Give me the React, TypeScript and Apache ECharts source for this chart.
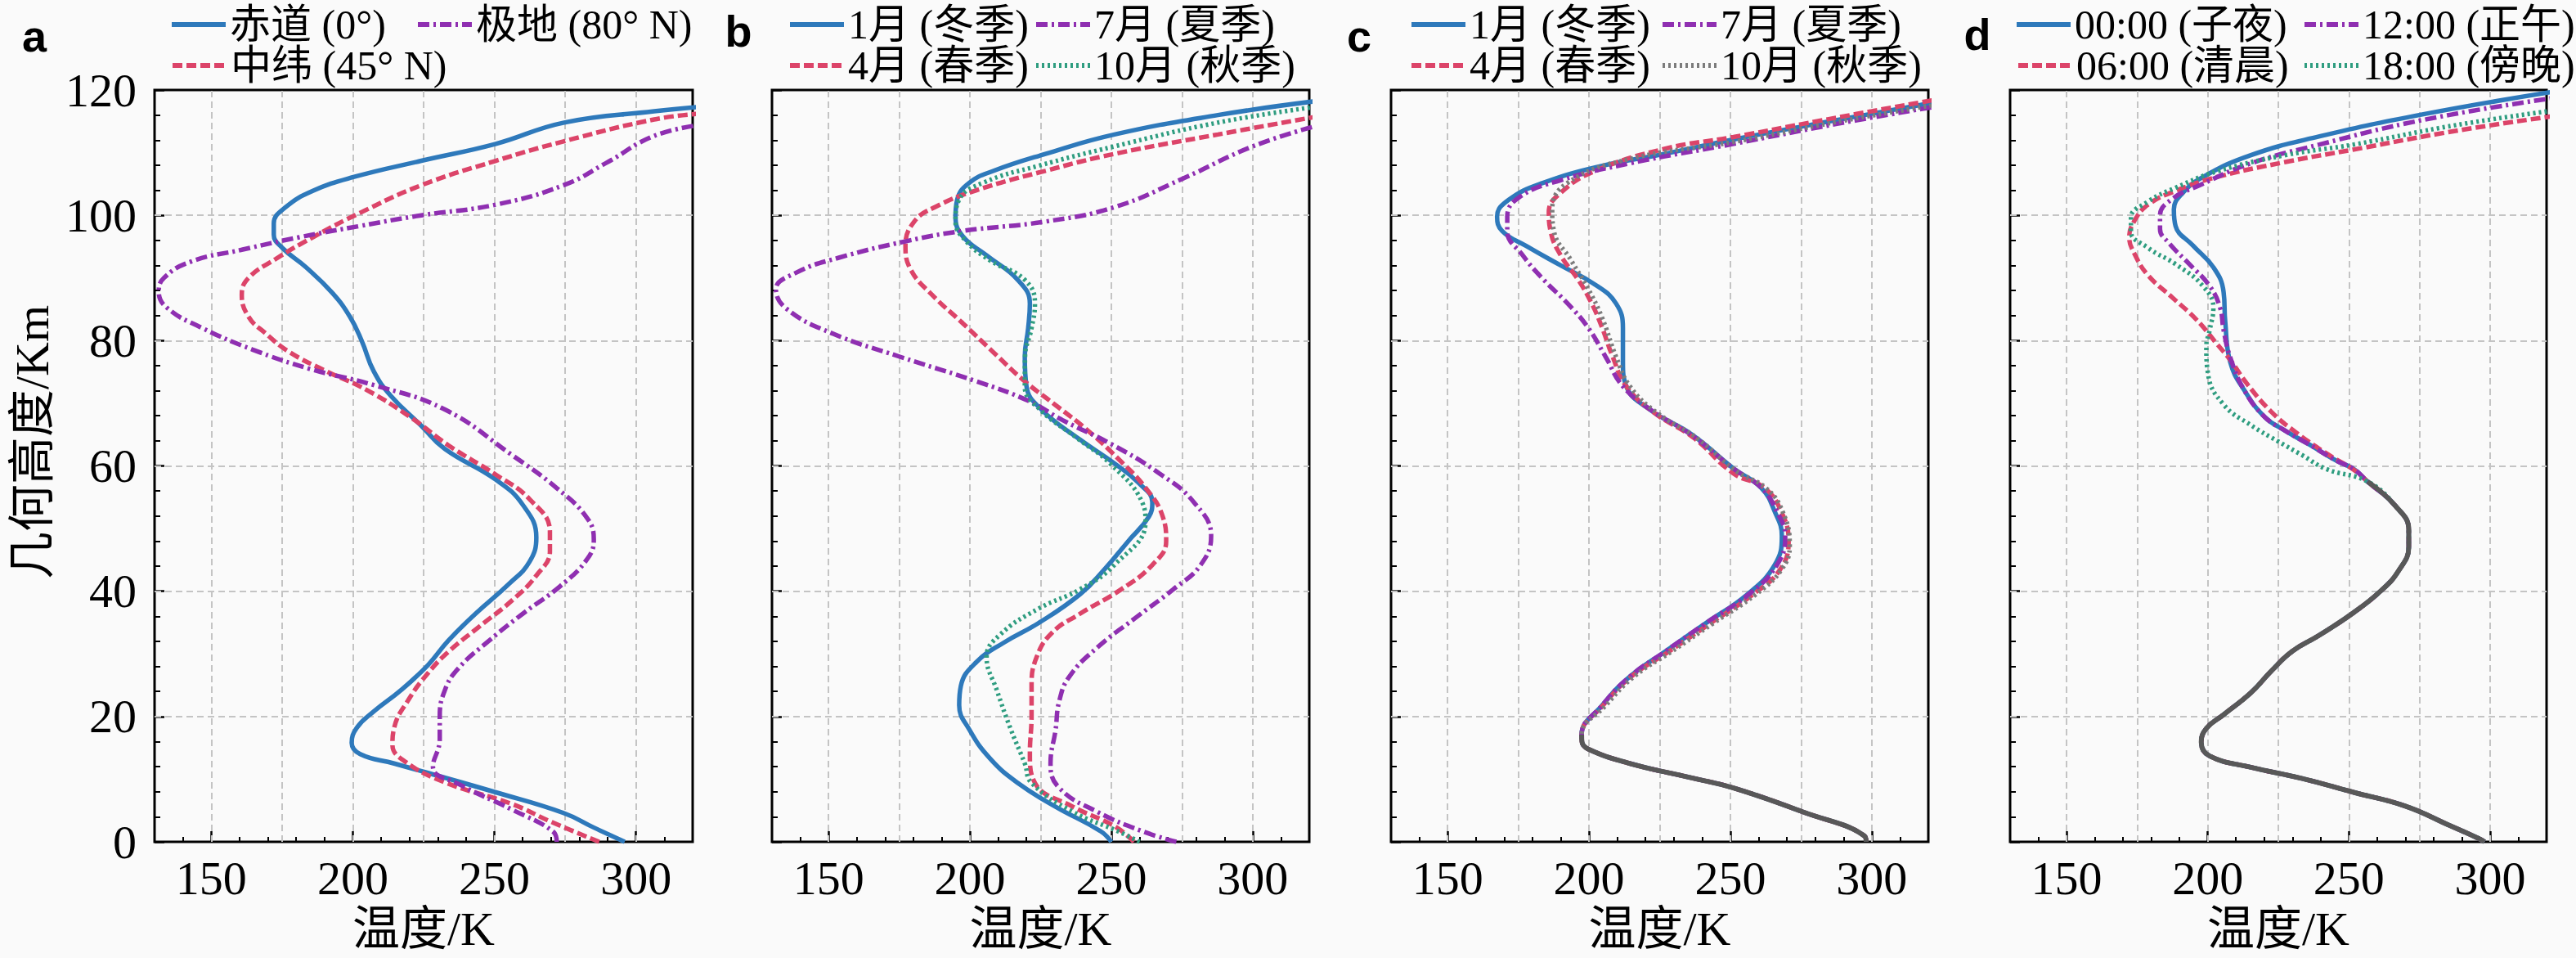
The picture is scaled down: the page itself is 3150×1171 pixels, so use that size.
import React, { useEffect, useRef } from "react";
import * as echarts from "echarts";

type Pt = [number, number];

// ---------- axis / tick values ----------
const X_MIN = 130;
const X_MAX = 320;
const Y_MIN = 0;
const Y_MAX = 120;
const xTickLabels = [150, 200, 250, 300];
const xGridLines = [150, 175, 200, 225, 250, 275, 300];
const yGridLines = [20, 40, 60, 80, 100];

// ---------- panel a : latitude ----------
const aEquator: Pt[] = [
  [296, 0], [285, 2.3], [274.4, 4.6], [250.5, 7.9], [226.5, 11.0], [214.6, 12.5], [202.6, 14.0],
  [199.6, 15.8], [201.4, 18.2], [207.4, 20.8], [217.0, 24.2], [226.5, 28.2], [233.7, 32.1],
  [243.3, 36.4], [255.2, 41.2], [262.4, 44.7], [264.8, 48.6], [260.0, 53.8], [250.5, 57.8],
  [232.5, 62.7], [224.2, 66.4], [213.4, 71.2], [207.4, 75.1], [203.2, 79.9], [199.0, 83.8],
  [192.8, 87.6], [183.5, 91.7], [175.1, 94.8], [172.1, 96.9], [172.1, 98.7], [176.3, 101.3],
  [185.9, 103.9], [200.2, 106.1], [224.2, 108.7], [250.5, 111.4], [274.6, 114.8], [306.4, 116.6],
  [322, 117.3],
];
const aMidLat: Pt[] = [
  [287, 0], [270, 3.2], [256.4, 6.0], [232.5, 9.5], [218.2, 12.9], [214.0, 15.5], [214.6, 18.2],
  [219.4, 22.5], [226.5, 26.9], [233.7, 30.3], [244.5, 34.3], [256.4, 38.6], [264.8, 42.5],
  [269.6, 46.4], [269.6, 49.5], [262.4, 54.7], [250.5, 58.6], [233.7, 63.3], [220.6, 67.7],
  [205.0, 72.1], [190.7, 75.1], [177.5, 78.2], [169.1, 81.2], [163.2, 83.8], [160.8, 87.3],
  [163.2, 90.0], [172.7, 93.0], [185.9, 96.5], [202.6, 100.4], [224.2, 104.8], [250.5, 108.7],
  [274.4, 111.8], [306.4, 115.3], [322, 116.2],
];
const aPolar: Pt[] = [
  [272, 0], [270.8, 1.6], [256.4, 5.1], [238.4, 9.0], [228.3, 12.0], [230.7, 16.4], [230.7, 19.9],
  [232.5, 24.2], [237.3, 27.7], [248.1, 32.1], [260.0, 36.4], [273.2, 40.8], [282.7, 45.1],
  [285.1, 48.2], [282.7, 51.7], [271.9, 56.5], [256, 61.8], [232.5, 69.0], [207.4, 72.9],
  [184.7, 75.5], [164.4, 78.6], [146.4, 82.1], [134.5, 85.2], [131.5, 87.8], [133.3, 90.0],
  [142.8, 92.6], [160.8, 94.5], [181.1, 96.5], [202.6, 98.3], [224.2, 100.0], [250.5, 101.7],
  [274.4, 104.8], [290, 108.5], [306, 112.6], [322, 114.4],
];

// ---------- panel b : season (80° N) ----------
const bJan: Pt[] = [
  [250, 0], [246.2, 1.7], [230.3, 5.6], [216.9, 9.4], [207.1, 13.3], [199.8, 17.9], [196.2, 21.8],
  [196.8, 24.9], [202.3, 28.7], [212.0, 31.8], [224.2, 34.9], [238.9, 39.5], [247.4, 43.4],
  [256.0, 48.0], [263.3, 51.9], [264.5, 54.2], [259.6, 57.3], [251.1, 60.4], [238.9, 64.2],
  [225.5, 68.9], [220.0, 72.7], [219.4, 77.4], [220.6, 82.0], [221.2, 85.9], [216.9, 89.7],
  [205.9, 93.6], [197.4, 96.7], [194.9, 99.8], [195.5, 102.5], [199.8, 105.2], [208.4, 107.1],
  [226.7, 109.8], [251.1, 112.9], [287.7, 116.0], [322, 118.2],
];
const bApr: Pt[] = [
  [258, 0], [251.1, 2.5], [236.4, 5.6], [223.0, 9.4], [221.2, 14.1], [221.8, 20.2], [221.8, 24.9],
  [223.6, 29.5], [229.1, 33.4], [238.9, 36.4], [253.5, 40.3], [264.5, 44.2], [269.4, 48.0],
  [268.2, 51.9], [262.1, 56.5], [252.3, 61.2], [241.3, 65.8], [230.3, 69.7], [219.4, 73.5],
  [208.4, 78.1], [197.4, 82.8], [186.4, 87.4], [179.1, 91.3], [177.2, 95.1], [180.3, 99.0],
  [187.6, 101.3], [202.3, 104.0], [226.7, 107.1], [251.1, 109.8], [287.7, 112.9], [322, 115.7],
];
const bJul: Pt[] = [
  [273, 0], [260.9, 1.7], [245.0, 4.8], [231.6, 8.6], [228.5, 12.5], [230.3, 17.9], [231.6, 22.5],
  [235.2, 26.4], [245.0, 31.0], [258.4, 35.7], [271.9, 40.3], [281.6, 44.2], [285.3, 48.8],
  [279.2, 54.2], [267.0, 58.8], [249.9, 63.5], [232.8, 67.3], [220.6, 70.4], [202.3, 73.5],
  [175.4, 77.4], [151.0, 81.2], [135.1, 85.1], [131.4, 88.2], [138.8, 90.9], [153.4, 93.2],
  [177.8, 95.9], [197.4, 97.5], [226.7, 99.0], [251.1, 101.3], [275.5, 105.9], [300, 111.0],
  [322, 114.2],
];
const bOct: Pt[] = [
  [260, 0], [252.3, 1.7], [236.4, 4.8], [221.8, 9.4], [219.4, 12.5], [214.5, 17.9], [209.6, 24.1],
  [205.9, 29.5], [210.5, 33.0], [224.2, 37.2], [238.9, 40.3], [251.1, 44.2], [262.1, 51.1],
  [260.9, 54.2], [250, 60.2], [238, 64.4], [225, 68.9], [219.4, 72.7], [219.5, 77.4],
  [221.8, 82.0], [223.0, 85.9], [219.4, 89.7], [207.1, 92.8], [198.6, 95.9], [194.9, 99.0],
  [196.2, 102.5], [204.7, 105.2], [224.2, 107.9], [251.1, 111.0], [287.7, 114.8], [322, 117.3],
];

// ---------- panel c : season (equator) ----------
const cLower: Pt[] = [
  [298, 0], [297.5, 0.9], [275.5, 4.8], [251.1, 8.6], [236.4, 10.2], [214.5, 12.5], [199.8, 14.8],
  [197.5, 16.0], [197.4, 17.1],
];
const cJanUpper: Pt[] = [
  [204.7, 21.8], [214.5, 26.4], [226.7, 30.3], [241.3, 34.9], [256.0, 39.5], [265.7, 44.2],
  [268.2, 48.8], [265.7, 52.7], [260.9, 56.5], [251.1, 59.6], [236.4, 65.0], [221.8, 68.9],
  [213.2, 72.7], [212.0, 76.6], [212.0, 82.0], [209.6, 85.9], [202.3, 88.9], [190.0, 92.0],
  [177.8, 95.1], [169.3, 97.5], [167.5, 99.8], [171.7, 102.5], [183.9, 105.2], [204.7, 107.9],
  [226.7, 109.8], [251.1, 112.1], [287.7, 115.2], [322, 118.0],
];
const cAprUpper: Pt[] = [
  [205, 21.8], [215, 26.4], [228, 30.3], [243, 34.9], [258, 39.5], [267.5, 43.4], [270.6, 48.0],
  [268, 52.7], [262, 56.5], [251.1, 58.8], [237, 64.5], [223, 68.5], [213.2, 72.7], [208.4, 77.4],
  [204.7, 82.0], [201.0, 85.9], [196.2, 89.7], [190.0, 93.6], [186.4, 97.5], [185.8, 100.5],
  [190.0, 103.6], [202.3, 107.1], [226.7, 110.6], [251.1, 112.5], [287.7, 115.6], [322, 118.4],
];
const cJulUpper: Pt[] = [
  [204.7, 21.8], [214.5, 26.4], [226.7, 30.3], [241.3, 34.9], [256.5, 39.5], [266.5, 44.2],
  [269.4, 48.8], [266.5, 52.7], [261, 56.5], [251, 59.6], [236, 65.0], [222, 68.9], [212, 72.7],
  [205.9, 77.4], [199.8, 82.0], [192.5, 85.9], [184, 89.7], [176.6, 93.6], [171.1, 97.5],
  [171.1, 99.8], [175.4, 102.9], [190.0, 105.6], [214.5, 108.3], [251.1, 111.4], [287.7, 114.6],
  [322, 117.3],
];
const cOctUpper: Pt[] = [
  [206, 21.8], [216, 26.4], [229, 30.3], [244, 34.9], [259, 39.5], [268, 43.4], [271, 47.3],
  [268.5, 52.7], [262.5, 56.5], [252, 59.2], [238, 64.5], [224, 68.5], [214.5, 72.7], [209.6, 77.4],
  [204.7, 83.6], [199.8, 88.2], [193.7, 92.8], [187.6, 97.5], [187, 100.9], [192.5, 105.2],
  [214.5, 109.0], [251.1, 111.7], [287.7, 114.9], [322, 117.6],
];

// ---------- panel d : local time ----------
const dLower: Pt[] = [
  [298, 0], [296.6, 0.4], [285.7, 2.6], [270.0, 5.7], [251.7, 7.9], [233.5, 10.1], [215.3, 11.9],
  [200.7, 13.7], [197.7, 15.9], [199.5, 18.1], [205.6, 20.3], [215.3, 23.8], [222.6, 27.3],
  [229.9, 30.4], [239.6, 33.0], [251.7, 36.6], [261.4, 40.1], [267.5, 43.2], [271.2, 47.1],
  [271.2, 49.8], [266.3, 53.7], [256.6, 57.5],
];
const d00Upper: Pt[] = [
  [251.7, 59.5], [245.7, 60.8], [236, 63.4], [227.5, 65.6], [220.2, 67.8], [212.9, 72.1],
  [208, 76.5], [206.2, 83.0], [205.6, 87.8], [202, 91.7], [194.7, 95.2], [188.6, 98.3],
  [188, 100.9], [191, 103.5], [198.3, 106.1], [215.3, 109.6], [239.6, 112.6], [276, 116.1],
  [322, 119.7],
];
const d06Upper: Pt[] = [
  [252, 59.3], [242, 62.0], [231.1, 65.4], [222.6, 68.6], [214.1, 73.0], [208, 76.9],
  [203.2, 79.5], [195.9, 83.4], [187.4, 86.9], [178.9, 90.4], [174, 93.9], [172.2, 96.5],
  [174, 99.1], [178.9, 101.7], [188.6, 103.9], [203.2, 106.1], [227.5, 108.5], [251.7, 110.5],
  [288.2, 113.5], [322, 115.8],
];
const d12Upper: Pt[] = [
  [251.7, 59.5], [245.7, 60.8], [236, 63.4], [227.5, 65.6], [220.2, 67.8], [212.9, 72.1],
  [208, 77.3], [205.6, 81.7], [204.4, 85.2], [200.7, 88.7], [193.5, 92.2], [186.2, 95.6],
  [183.1, 97.8], [183.1, 100.0], [187.4, 102.6], [197.1, 104.8], [215.3, 108.3], [239.6, 111.3],
  [276, 115.2], [322, 118.7],
];
const d18Upper: Pt[] = [
  [242, 59.5], [233.5, 61.7], [225, 63.9], [215.3, 66.5], [205.6, 69.8], [200.1, 74.7],
  [199.5, 79.1], [200.7, 81.7], [202, 85.2], [198.3, 88.7], [188.6, 92.2], [178.9, 94.8],
  [172.8, 97.4], [172.8, 99.6], [178.9, 102.2], [188.6, 104.4], [203.2, 107.0], [227.5, 109.6],
  [251.7, 111.3], [288, 114.4], [322, 116.7],
];

// ---------- labels ----------
const aNames = ["赤道 (0°)", "中纬 (45° N)", "极地 (80° N)"];
const seasonNames = ["1月 (冬季)", "4月 (春季)", "7月 (夏季)", "10月 (秋季)"];
const timeNames = ["00:00 (子夜)", "06:00 (清晨)", "12:00 (正午)", "18:00 (傍晚)"];
const panelLetters = ["a", "b", "c", "d"];
const xName = "温度/K";
const yName = "几何高度/Km";

// ---------- styles ----------
const BLUE = "#2e79bb";
const PURPLE = "#8f2fb1";
const PINK = "#dc4469";
const TEAL = "#2f9d80";
const GRAY = "#7c7c7c";
const SHARED = "#585858";
const GRIDC = "#c4c4c4";
const DASH: Record<string, any> = {
  solid: "solid",
  dashed: [12, 5],
  dashdot: [14, 5, 3, 5],
  dotted: [3, 4],
};
const SERIF = "'Liberation Serif', 'Noto Sans CJK SC', serif";
const SANS = "'Liberation Sans', Arial, sans-serif";

type Item = { name: string; data: Pt[]; color: string; dash: string; lx: number; row: number };
type Panel = {
  key: string;
  left: number;
  width: number;
  letterX: number;
  letterY: number;
  items: Item[];
  shared?: Pt[];
};

const join = (upper: Pt[], lower: Pt[]): Pt[] => [...lower, ...upper];

const panels: Panel[] = [
  {
    key: "a", left: 189, width: 658, letterX: 42, letterY: 44,
    items: [
      { name: aNames[0], data: aEquator, color: BLUE, dash: "solid", lx: 207, row: 0 },
      { name: aNames[1], data: aMidLat, color: PINK, dash: "dashed", lx: 208, row: 1 },
      { name: aNames[2], data: aPolar, color: PURPLE, dash: "dashdot", lx: 508, row: 0 },
    ],
  },
  {
    key: "b", left: 944, width: 657, letterX: 903, letterY: 38,
    items: [
      { name: seasonNames[0], data: bJan, color: BLUE, dash: "solid", lx: 963, row: 0 },
      { name: seasonNames[1], data: bApr, color: PINK, dash: "dashed", lx: 963, row: 1 },
      { name: seasonNames[2], data: bJul, color: PURPLE, dash: "dashdot", lx: 1264, row: 0 },
      { name: seasonNames[3], data: bOct, color: TEAL, dash: "dotted", lx: 1264, row: 1 },
    ],
  },
  {
    key: "c", left: 1701, width: 657, letterX: 1662, letterY: 44,
    items: [
      { name: seasonNames[0], data: join(cJanUpper, cLower), color: BLUE, dash: "solid", lx: 1723, row: 0 },
      { name: seasonNames[1], data: join(cAprUpper, cLower), color: PINK, dash: "dashed", lx: 1723, row: 1 },
      { name: seasonNames[2], data: join(cJulUpper, cLower), color: PURPLE, dash: "dashdot", lx: 2030, row: 0 },
      { name: seasonNames[3], data: join(cOctUpper, cLower), color: GRAY, dash: "dotted", lx: 2030, row: 1 },
    ],
    shared: cLower,
  },
  {
    key: "d", left: 2458, width: 656, letterX: 2418, letterY: 42,
    items: [
      { name: timeNames[0], data: join(d00Upper, dLower), color: BLUE, dash: "solid", lx: 2463, row: 0 },
      { name: timeNames[1], data: join(d06Upper, dLower), color: PINK, dash: "dashed", lx: 2465, row: 1 },
      { name: timeNames[2], data: join(d12Upper, dLower), color: PURPLE, dash: "dashdot", lx: 2815, row: 0 },
      { name: timeNames[3], data: join(d18Upper, dLower), color: TEAL, dash: "dotted", lx: 2815, row: 1 },
    ],
    shared: dLower,
  },
];

const PLOT_TOP = 110;
const PLOT_H = 919;
const ROW_CENTER = [27, 77];
const LEG_LINE_H = 44;

function buildOption(): any {
  const grid: any[] = [];
  const xAxis: any[] = [];
  const yAxis: any[] = [];
  const series: any[] = [];
  const legend: any[] = [];
  const graphic: any[] = [];

  panels.forEach((p, i) => {
    grid.push({
      left: p.left, top: PLOT_TOP, width: p.width, height: PLOT_H,
      show: true, borderColor: "#000", borderWidth: 3, backgroundColor: "transparent",
    });
    // main x axis (minor 10 K ticks + labels)
    xAxis.push({
      gridIndex: i, type: "value", min: X_MIN, max: X_MAX, interval: 10, position: "bottom",
      axisLine: { show: false },
      axisTick: { show: true, inside: true, length: 6, lineStyle: { color: "#000", width: 2 } },
      axisLabel: {
        show: true, customValues: xTickLabels, margin: 15, fontSize: 58, lineHeight: 58,
        fontFamily: SERIF, color: "#000",
        formatter: (v: number) => (v % 50 === 0 ? String(v) : ""),
      },
      splitLine: { show: false },
      name: xName, nameLocation: "middle", nameGap: 55,
      nameTextStyle: { fontSize: 58, lineHeight: 58, fontFamily: SERIF, color: "#000" },
    });
    // aux x axis (major ticks)
    xAxis.push({
      gridIndex: i, type: "value", min: X_MIN, max: X_MAX, interval: 10, position: "bottom",
      axisLine: { show: false },
      axisTick: { show: true, inside: true, length: 13, customValues: xTickLabels, lineStyle: { color: "#000", width: 2.5 } },
      axisLabel: { show: false },
      splitLine: { show: false },
    });
    yAxis.push({
      gridIndex: i, type: "value", min: Y_MIN, max: Y_MAX, interval: 20,
      axisLine: { show: false },
      axisTick: { show: true, inside: true, length: 12, lineStyle: { color: "#000", width: 2.5 } },
      minorTick: { show: true, splitNumber: 5, length: 7, lineStyle: { color: "#000", width: 2 } },
      axisLabel: { show: i === 0, margin: 22, fontSize: 58, fontFamily: SERIF, color: "#000" },
      splitLine: { show: false },
      name: i === 0 ? yName : "", nameLocation: "middle", nameGap: 121, nameRotate: 90,
      nameTextStyle: { fontSize: 58, lineHeight: 58, fontFamily: SERIF, color: "#000", padding: [0, 0, 0, 58] },
    });
    // dashed grid lines
    series.push({
      type: "line", xAxisIndex: i * 2, yAxisIndex: i, data: [], silent: true, z: 1,
      markLine: {
        silent: true, z: 1, symbol: ["none", "none"], label: { show: false }, animation: false,
        lineStyle: { type: [8, 5], color: GRIDC, width: 2 },
        data: [
          ...xGridLines.map((v) => ({ xAxis: v })),
          ...yGridLines.map((v) => ({ yAxis: v })),
        ],
      },
    });
    p.items.forEach((it) => {
      const sname = `${p.key}|${it.name}`;
      series.push({
        type: "line", name: sname, xAxisIndex: i * 2, yAxisIndex: i, data: it.data,
        showSymbol: false, symbol: "none", smooth: 0.45, clip: true, silent: true, z: 2,
        lineStyle: { color: it.color, width: 5.5, type: DASH[it.dash] },
        itemStyle: { color: it.color },
      });
      legend.push({
        data: [sname], left: it.lx, top: ROW_CENTER[it.row] - LEG_LINE_H / 2, padding: 0,
        itemWidth: 66, itemHeight: LEG_LINE_H, itemGap: 0, selectedMode: false,
        itemStyle: { opacity: 0, color: "transparent", borderWidth: 0 },
        lineStyle: { width: 6, color: it.color, type: DASH[it.dash] },
        formatter: (n: string) => n.split("|")[1],
        textStyle: { fontSize: 50, lineHeight: LEG_LINE_H, fontFamily: SERIF, color: "#000" },
      });
    });
    if (p.shared) {
      series.push({
        type: "line", name: `${p.key}|shared`, xAxisIndex: i * 2, yAxisIndex: i, data: p.shared,
        showSymbol: false, symbol: "none", smooth: 0.45, clip: true, silent: true, z: 3,
        lineStyle: { color: SHARED, width: 6 }, itemStyle: { color: SHARED },
      });
    }
    graphic.push({
      type: "text", x: p.letterX, y: p.letterY,
      style: {
        text: panelLetters[i], fontSize: 54, fontWeight: "bold", fontFamily: SANS, fill: "#000",
        textAlign: "center", textVerticalAlign: "middle", align: "center", verticalAlign: "middle",
      },
    });
  });

  return {
    animation: false,
    backgroundColor: "#fafafa",
    grid, xAxis, yAxis, series, legend, graphic,
  };
}

export default function App() {
  const ref = useRef<HTMLDivElement>(null);
  useEffect(() => {
    document.body.style.margin = "0";
    const chart = echarts.init(ref.current!, undefined, { renderer: "svg", width: 3150, height: 1171 });
    chart.setOption(buildOption());
    return () => chart.dispose();
  }, []);
  return <div ref={ref} style={{ width: 3150, height: 1171 }} />;
}
